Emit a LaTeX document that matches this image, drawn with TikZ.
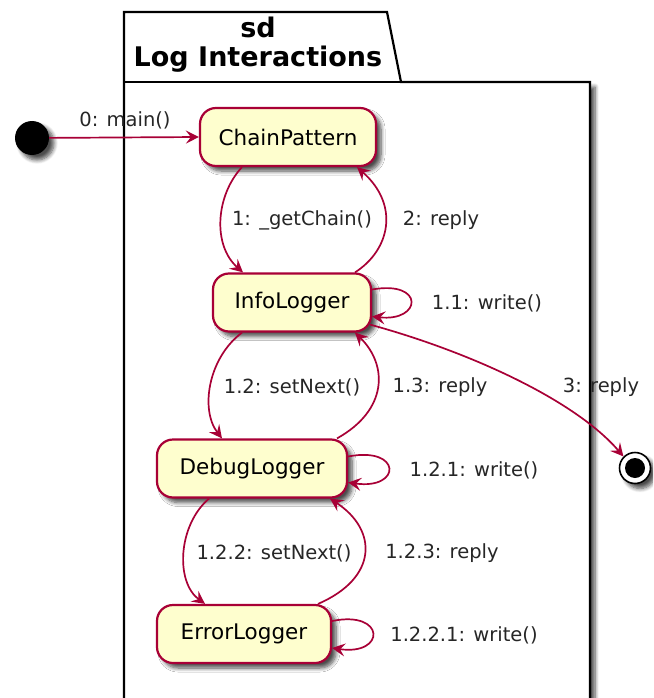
\documentclass[tikz,border=0pt]{standalone}
\usepackage{fontspec}
\setmainfont{DejaVu Sans}
\usetikzlibrary{arrows.meta,shadows.blur,calc}
\definecolor{umlred}{HTML}{A80036}
\definecolor{umlfill}{HTML}{FEFECE}
\tikzset{
  x=1pt, y=-1pt,
  softshadow/.style={blur shadow={shadow xshift=5pt, shadow yshift=-5pt, shadow blur steps=7, shadow blur radius=4pt, shadow opacity=70}},
  statebox/.style={draw=umlred, fill=umlfill, line width=2.2pt, rounded corners=16pt,
    minimum height=58pt, inner sep=0pt, font=\fontsize{21.5}{24}\selectfont, softshadow},
  msg/.style={draw=umlred, line width=1.7pt, -{Stealth[length=13pt,width=13pt,inset=5pt]}},
  lbl/.style={font=\fontsize{19.5}{22}\selectfont, inner sep=0pt, text=black!85},
}
\begin{document}
\begin{tikzpicture}
\useasboundingbox (0,0) rectangle (653,698);
\clip (0,0) rectangle (653,698);

% package frame with its tab
\fill[black!30, softshadow] (124,82) rectangle (590,720);
\draw[line width=2.2pt, fill=white] (124,12) -- (387,12) -- (401,82) -- (590,82) -- (590,720) -- (124,720) -- cycle;
\draw[line width=2.2pt] (124,82) -- (401,82);
\node[font=\fontsize{27}{29}\selectfont\bfseries, align=center, inner sep=0pt] (title) at (258,45) {sd\\Log Interactions};

% states
\node[statebox, minimum width=176pt] (CP) at (288,137) {ChainPattern};
\node[statebox, minimum width=158pt] (IL) at (292,302.5) {InfoLogger};
\node[statebox, minimum width=190pt] (DL) at (252,468.5) {DebugLogger};
\node[statebox, minimum width=174pt] (EL) at (244,634) {ErrorLogger};

% initial and final pseudostates
\node[circle, fill=black, minimum size=34pt, inner sep=0pt, softshadow] (start) at (32,138) {};
\node[circle, draw=black, line width=1.6pt, fill=white, minimum size=31pt, inner sep=0pt, softshadow] (stop) at (635,468) {};
\node[circle, fill=black, minimum size=20pt, inner sep=0pt] (stopdot) at (stop.center) {};

% messages
\draw[msg] (start) -- (CP.west);
\node[lbl] (l0) at (125,120) {0: main()};

\draw[msg] ([xshift=-46pt]CP.south) .. controls (216,195) and (212,245) .. ([xshift=-49pt]IL.north);
\node[lbl] (l1) at (302,220) {1: \_getChain()};
\draw[msg] ([xshift=63pt]IL.north) .. controls (390,250) and (400,205) .. ([xshift=69pt]CP.south);
\node[lbl] (l2) at (441,220) {2: reply};

\draw[msg] ([yshift=13pt]IL.east) .. controls (425,280) and (422,322) .. ([yshift=-14pt]IL.east);
\node[lbl] (l11) at (487,303) {1.1: write()};

\draw[msg] ([xshift=-50pt]IL.south) .. controls (208,358) and (200,410) .. ([xshift=-30pt]DL.north);
\node[lbl] (l12) at (292,387) {1.2: setNext()};
\draw[msg] ([xshift=85pt]DL.north) .. controls (388,410) and (388,365) .. ([xshift=63pt]IL.south);
\node[lbl] (l13) at (440,387) {1.3: reply};

\draw[msg] ([xshift=-2pt,yshift=8pt]IL.south east) .. controls (470,352) and (575,400) .. (stop.north west);
\node[lbl] (l3) at (601,387) {3: reply};

\draw[msg] ([yshift=12pt]DL.east) .. controls (402,446) and (402,490) .. ([yshift=-14pt]DL.east);
\node[lbl] (l121) at (474,470) {1.2.1: write()};

\draw[msg] ([xshift=-43pt]DL.south) .. controls (178,525) and (175,582) .. ([xshift=-39pt]EL.north);
\node[lbl] (l122) at (274,553) {1.2.2: setNext()};
\draw[msg] ([xshift=74pt]EL.north) .. controls (378,578) and (378,530) .. ([xshift=78pt]DL.south);
\node[lbl] (l123) at (442,553) {1.2.3: reply};

\draw[msg] ([yshift=13pt]EL.east) .. controls (386,610) and (386,656) .. ([yshift=-14pt]EL.east);
\node[lbl] (l1221) at (464,635) {1.2.2.1: write()};
\end{tikzpicture}
\end{document}
